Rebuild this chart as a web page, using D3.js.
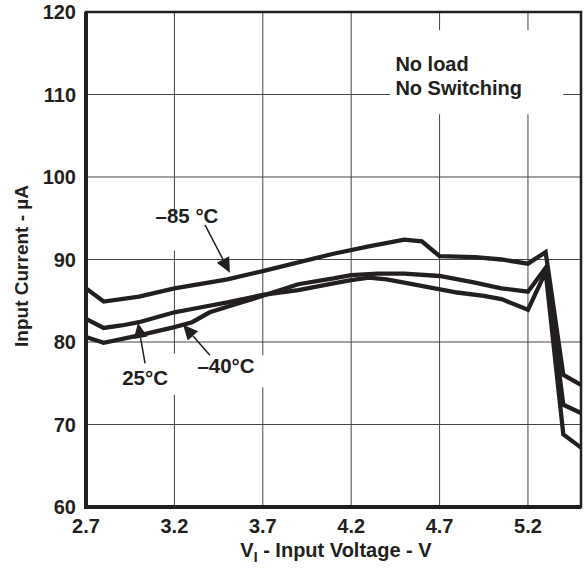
<!DOCTYPE html>
<html>
<head>
<meta charset="utf-8">
<script src="https://cdn.jsdelivr.net/npm/d3@7"></script>
<style>
  body { margin: 0; background: #fff; }
  svg text { font-family: "Liberation Sans", Arial, sans-serif; font-weight: bold; fill: #231f20; }
</style>
</head>
<body>
<script>
'use strict';

// input voltage (V) and input current (uA)
var voltsM85 = [2.7, 2.8, 3.0, 3.2, 3.5, 3.7, 4.1, 4.3, 4.5, 4.6, 4.7, 4.9, 5.05, 5.2, 5.3, 5.4, 5.5];
var currM85  = [86.5, 84.9, 85.5, 86.5, 87.6, 88.6, 90.7, 91.6, 92.4, 92.2, 90.4, 90.3, 90.0, 89.5, 90.9, 76.0, 74.8];

var voltsM40 = [2.7, 2.8, 3.0, 3.2, 3.3, 3.4, 3.55, 3.7, 3.8, 3.9, 4.1, 4.2, 4.35, 4.5, 4.7, 4.9, 5.05, 5.2, 5.3, 5.4, 5.5];
var currM40  = [80.6, 79.9, 80.8, 81.8, 82.4, 83.6, 84.6, 85.6, 86.3, 87.0, 87.7, 88.1, 88.3, 88.3, 88.0, 87.2, 86.5, 86.1, 89.0, 72.4, 71.4];

var volts25 = [2.7, 2.8, 2.9, 3.0, 3.2, 3.3, 3.5, 3.7, 3.9, 4.1, 4.2, 4.3, 4.4, 4.5, 4.65, 4.8, 4.95, 5.05, 5.2, 5.3, 5.4, 5.5];
var curr25  = [82.8, 81.7, 82.0, 82.4, 83.6, 84.0, 84.8, 85.7, 86.3, 87.1, 87.5, 87.8, 87.6, 87.2, 86.6, 86.0, 85.6, 85.2, 83.9, 88.5, 68.8, 67.2];

var xTicks = [2.7, 3.2, 3.7, 4.2, 4.7, 5.2];
var yTicks = [60, 70, 80, 90, 100, 110, 120];

// labels: text, label anchor (V, uA), arrow start, arrow tip
var labelText = ["\u201385 \u00b0C", "25\u00b0C", "\u201340\u00b0C"];
var labelPos  = [[3.271, 94.4], [3.034, 74.8], [3.492, 76.2]];
var arrowFrom = [[3.373, 94.2], [3.034, 77.4], [3.401, 78.4]];
var arrowTo   = [[3.514, 88.4], [2.994, 82.3], [3.249, 82.1]];

var width = 585, height = 570;
var margin = {top: 12, right: 4, bottom: 63, left: 86};
var w = width - margin.left - margin.right,
    h = height - margin.top - margin.bottom;

var svg = d3.select("body").append("svg")
    .attr("width", width)
    .attr("height", height);

var g = svg.append("g")
    .attr("transform", "translate(" + margin.left + "," + margin.top + ")");

var x = d3.scaleLinear().domain([2.7, 5.5]).range([0, w]);
var y = d3.scaleLinear().domain([60, 120]).range([h, 0]);

// grid
g.append("g").selectAll("line")
    .data(xTicks.slice(1))
    .enter().append("line")
    .attr("x1", function(d) { return x(d); })
    .attr("x2", function(d) { return x(d); })
    .attr("y1", 0).attr("y2", h)
    .attr("stroke", "#444").attr("stroke-width", 1);

g.append("g").selectAll("line")
    .data(yTicks.slice(1, -1))
    .enter().append("line")
    .attr("x1", 0).attr("x2", w)
    .attr("y1", function(d) { return y(d); })
    .attr("y2", function(d) { return y(d); })
    .attr("stroke", "#444").attr("stroke-width", 1);

// white boxes behind the annotations (they cut the grid)
var boxes = [[3.1, 95.5, 3.54, 91.1], [2.87, 78.6, 3.25, 73.6], [3.28, 78.4, 3.73, 74.5], [4.42, 117.8, 5.4, 107.6]];
g.append("g").selectAll("rect")
    .data(boxes)
    .enter().append("rect")
    .attr("x", function(d) { return x(d[0]); })
    .attr("y", function(d) { return y(d[1]); })
    .attr("width", function(d) { return x(d[2]) - x(d[0]); })
    .attr("height", function(d) { return y(d[3]) - y(d[1]); })
    .attr("fill", "#fff");

// curves
var line = d3.line()
    .x(function(d) { return x(d[0]); })
    .y(function(d) { return y(d[1]); });

var series = [d3.zip(voltsM85, currM85), d3.zip(voltsM40, currM40), d3.zip(volts25, curr25)];

g.append("g").selectAll("path")
    .data(series)
    .enter().append("path")
    .attr("d", line)
    .attr("fill", "none")
    .attr("stroke", "#231f20")
    .attr("stroke-width", 4.3)
    .attr("stroke-linejoin", "miter");

// frame
g.append("rect")
    .attr("x", 0).attr("y", 0)
    .attr("width", w).attr("height", h)
    .attr("fill", "none").attr("stroke", "#231f20").attr("stroke-width", 2.5);
g.append("path")
    .attr("d", "M0,0V" + h + "H" + w)
    .attr("fill", "none").attr("stroke", "#231f20").attr("stroke-width", 4);

// tick labels
g.append("g").selectAll("text")
    .data(yTicks)
    .enter().append("text")
    .attr("x", -10)
    .attr("y", function(d) { return y(d); })
    .attr("dy", "0.35em")
    .attr("text-anchor", "end")
    .style("font-size", "20px")
    .text(function(d) { return d; });

g.append("g").selectAll("text")
    .data(xTicks)
    .enter().append("text")
    .attr("x", function(d) { return x(d); })
    .attr("y", h + 26)
    .attr("text-anchor", "middle")
    .style("font-size", "20px")
    .text(function(d) { return d3.format(".1f")(d); });

// axis titles
var xt = svg.append("text")
    .attr("x", 336).attr("y", 557)
    .attr("text-anchor", "middle")
    .style("font-size", "20px");
xt.append("tspan").text("V");
xt.append("tspan").attr("dy", 5).style("font-size", "14px").text("I");
xt.append("tspan").attr("dy", -5).text(" - Input Voltage - V");

svg.append("text")
    .attr("transform", "translate(28,266) rotate(-90)")
    .attr("text-anchor", "middle")
    .style("font-size", "19px")
    .text("Input Current - \u00b5A");

// condition note
g.append("text")
    .attr("x", x(4.45)).attr("y", y(112.8))
    .style("font-size", "20px")
    .text("No load");
g.append("text")
    .attr("x", x(4.45)).attr("y", y(110))
    .style("font-size", "20px")
    .text("No Switching");

// temperature labels with arrows
var ann = g.append("g");
labelText.forEach(function(t, i) {
    ann.append("text")
        .attr("x", x(labelPos[i][0]))
        .attr("y", y(labelPos[i][1]))
        .attr("text-anchor", "middle")
        .style("font-size", "20.5px")
        .text(t);

    var x0 = x(arrowFrom[i][0]), y0 = y(arrowFrom[i][1]),
        x1 = x(arrowTo[i][0]), y1 = y(arrowTo[i][1]);
    var a = Math.atan2(y1 - y0, x1 - x0);
    var len = 15, half = 7;
    var bx = x1 - len * Math.cos(a), by = y1 - len * Math.sin(a);

    ann.append("line")
        .attr("x1", x0).attr("y1", y0)
        .attr("x2", bx).attr("y2", by)
        .attr("stroke", "#231f20").attr("stroke-width", 1.5);

    ann.append("path")
        .attr("d", "M" + x1 + "," + y1 +
            "L" + (bx + half * Math.sin(a)) + "," + (by - half * Math.cos(a)) +
            "L" + (bx - half * Math.sin(a)) + "," + (by + half * Math.cos(a)) + "Z")
        .attr("fill", "#231f20");
});
</script>
</body>
</html>
